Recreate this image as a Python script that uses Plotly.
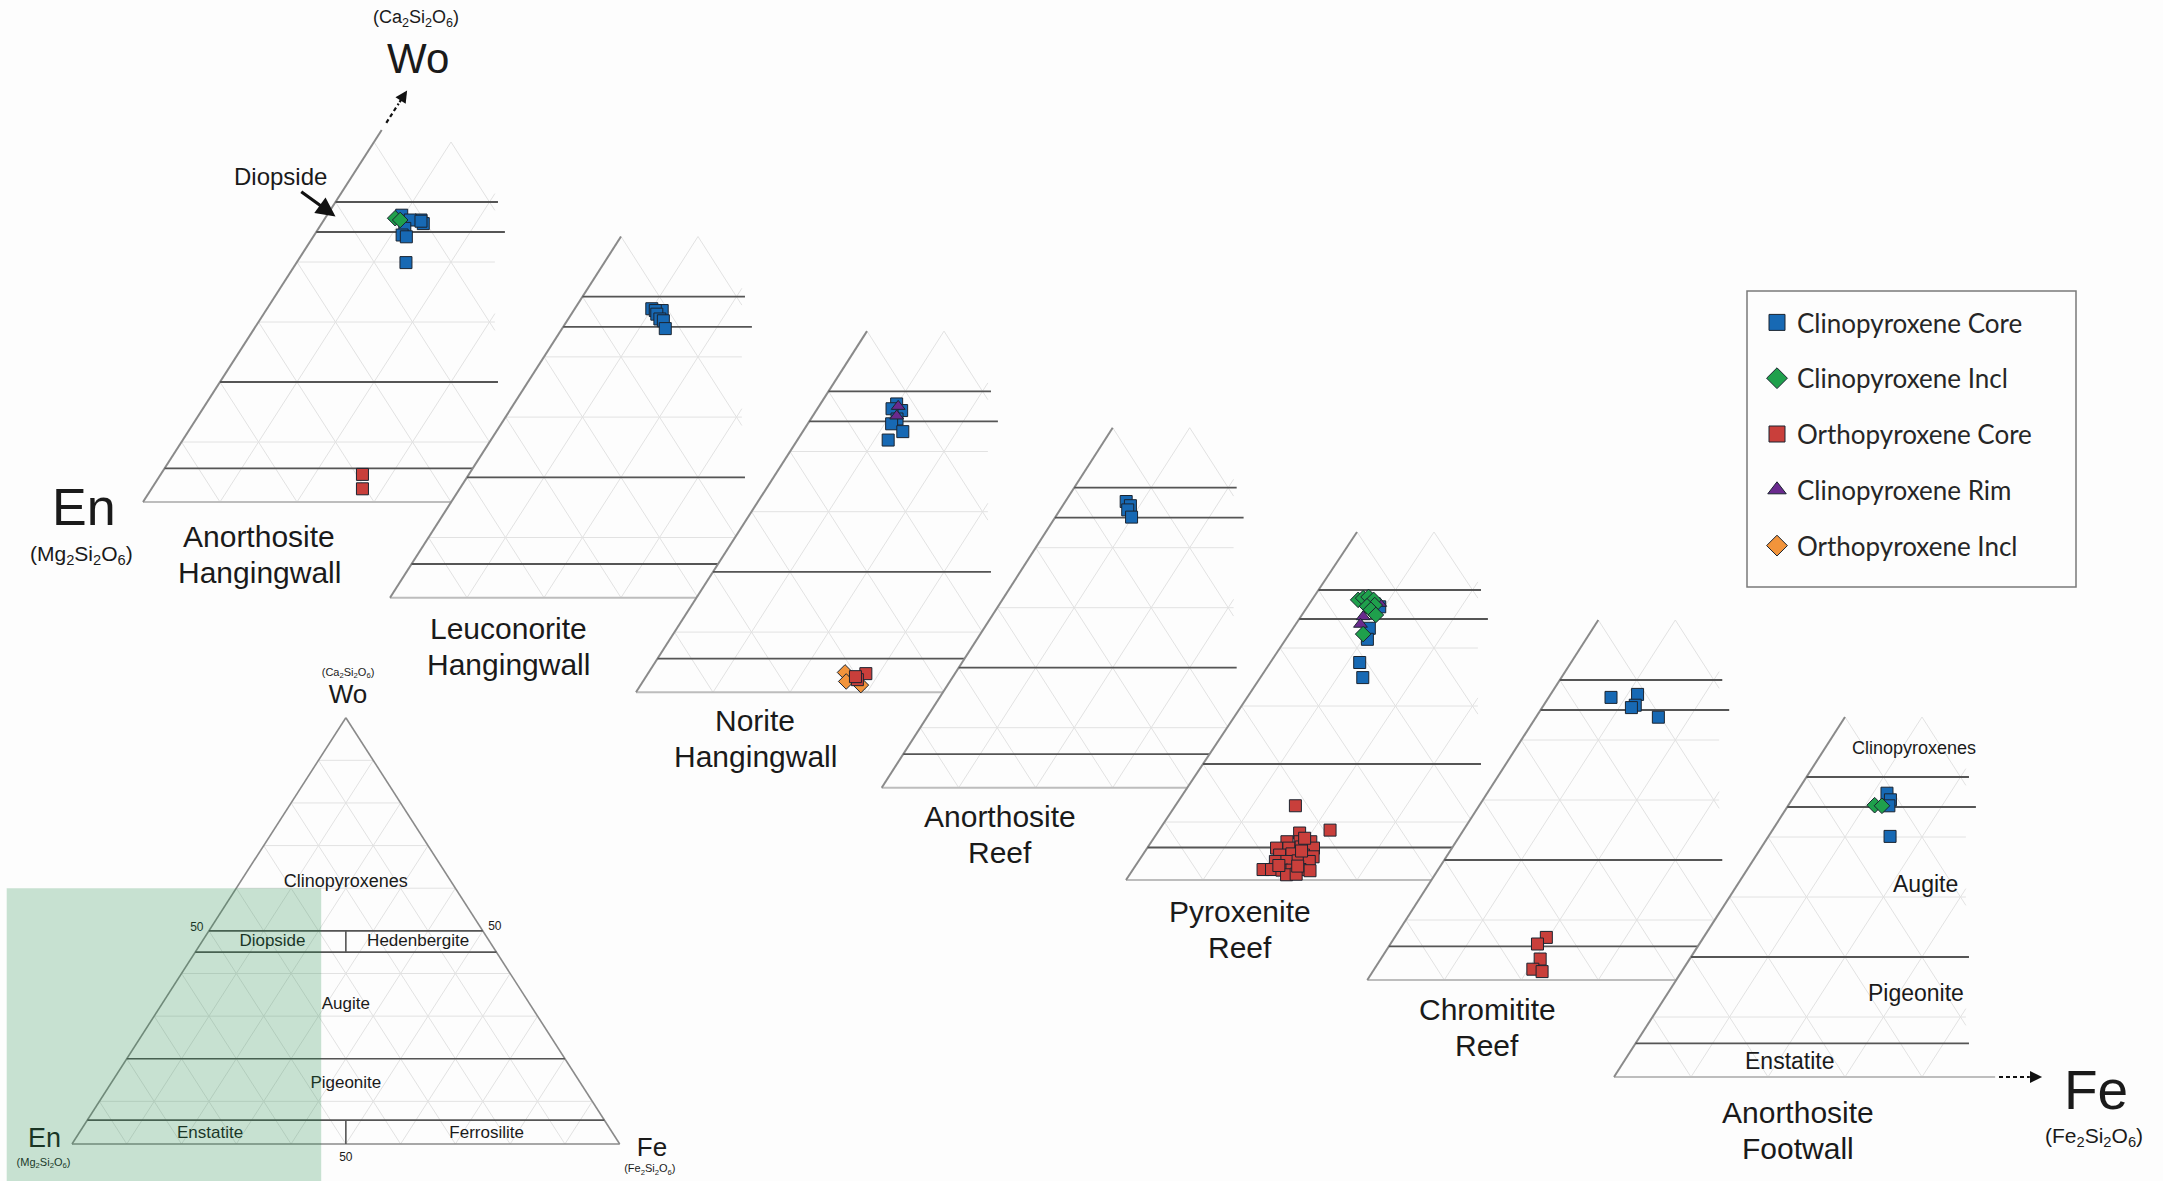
import numpy as np
import plotly.graph_objects as go

FIG_W, FIG_H = 2163, 1181
R3 = np.sqrt(3) / 2

# ---------------------------------------------------------------------------
# Pyroxene compositions, mol. % Wo and mol. % Fs (En = 100 - Wo - Fs)
# ---------------------------------------------------------------------------
PANEL_KEYS = ["AH", "LH", "NH", "AR", "PR", "CR", "AF"]
PANEL_TITLES = {
    "AH": ("Anorthosite", "Hangingwall"),
    "LH": ("Leuconorite", "Hangingwall"),
    "NH": ("Norite", "Hangingwall"),
    "AR": ("Anorthosite", "Reef"),
    "PR": ("Pyroxenite", "Reef"),
    "CR": ("Chromitite", "Reef"),
    "AF": ("Anorthosite", "Footwall"),
}

CPX_CORE_WO = {
    "AH": [47.8, 47.0, 47.0, 46.4, 46.8, 45.6, 44.5, 44.2, 39.9],
    "LH": [48.0, 47.7, 47.7, 47.1, 46.3, 46.0, 44.7],
    "NH": [47.9, 46.8, 47.1, 45.4, 44.6, 43.3, 41.9],
    "AR": [47.7, 47.0, 46.3, 45.1],
    "PR": [47.1, 43.4, 41.5, 37.5, 34.9],
    "CR": [47.1, 47.6, 45.8, 45.4, 43.8],
    "AF": [47.3, 46.2, 45.2, 40.1],
}
CPX_CORE_FS = {
    "AH": [9.7, 12.6, 11.2, 13.2, 12.7, 11.2, 11.4, 12.1, 14.2],
    "LH": [10.0, 11.5, 10.6, 11.1, 11.9, 12.5, 13.4],
    "NH": [9.9, 11.1, 9.7, 11.2, 10.9, 13.0, 11.8],
    "AR": [7.9, 8.8, 8.8, 9.9],
    "PR": [9.4, 9.9, 10.6, 11.6, 13.3],
    "CR": [8.1, 11.3, 11.9, 11.6, 15.9],
    "AF": [11.8, 12.8, 13.1, 15.8],
}

CPX_INCL_WO = {
    "AH": [47.3, 47.0],
    "PR": [48.3, 48.6, 48.8, 48.3, 47.4, 47.2, 46.6, 45.7, 42.4],
    "AF": [45.3, 45.2],
}
CPX_INCL_FS = {
    "AH": [9.1, 9.9],
    "PR": [6.0, 6.5, 7.1, 8.0, 8.6, 7.7, 8.5, 9.6, 9.6],
    "AF": [11.2, 12.2],
}

CPX_RIM_WO = {"NH": [47.5, 45.9], "PR": [47.7, 45.4, 44.1]}
CPX_RIM_FS = {"NH": [10.3, 10.9], "PR": [9.1, 8.1, 8.4]}

OPX_CORE_WO = {
    "AH": [4.6, 2.2],
    "NH": [3.1, 2.1, 2.6],
    "PR": [12.8, 8.6, 8.1, 6.6, 6.6, 6.6, 5.5, 5.5, 5.7, 5.5, 4.3, 4.5, 4.3,
           4.0, 3.2, 3.2, 3.3, 3.2, 1.8, 1.8, 1.7, 1.7, 1.8, 1.6, 0.9, 1.0,
           7.2, 5.0, 2.5, 2.4],
    "CR": [7.1, 6.0, 3.5, 1.8, 1.4],
}
OPX_CORE_FS = {
    "AH": [26.2, 27.4],
    "NH": [28.3, 27.7, 27.2],
    "PR": [15.6, 22.2, 18.5, 17.6, 19.3, 20.7, 16.8, 18.4, 19.9, 21.6, 17.8,
           19.3, 20.9, 22.3, 17.8, 19.3, 20.7, 22.2, 16.9, 18.0, 19.4, 20.7,
           21.7, 23.1, 20.4, 21.6, 19.6, 20.3, 18.6, 21.1],
    "CR": [19.7, 19.1, 20.7, 20.6, 22.0],
}

OPX_INCL_WO = {"NH": [3.3, 1.8, 1.2]}
OPX_INCL_FS = {"NH": [25.5, 26.4, 28.6]}

# Pyroxene classification boundaries (mol. % Wo)
BOUNDARY_WO = [50, 45, 20, 5.6]

# ---------------------------------------------------------------------------
# Styles (series listed in drawing order)
# ---------------------------------------------------------------------------
OUTLINE = "#1b2430"
SERIES = [
    dict(name="Clinopyroxene Core", wo=CPX_CORE_WO, fs=CPX_CORE_FS, symbol="square", color="#1769b4", rank=1),
    dict(name="Orthopyroxene Incl", wo=OPX_INCL_WO, fs=OPX_INCL_FS, symbol="diamond", color="#f2943b", rank=5),
    dict(name="Orthopyroxene Core", wo=OPX_CORE_WO, fs=OPX_CORE_FS, symbol="square", color="#c93f3b", rank=3),
    dict(name="Clinopyroxene Rim", wo=CPX_RIM_WO, fs=CPX_RIM_FS, symbol="triangle-up", color="#6a2a8e", rank=4),
    dict(name="Clinopyroxene Incl", wo=CPX_INCL_WO, fs=CPX_INCL_FS, symbol="diamond", color="#1fa04c", rank=2),
]

FONT = "Liberation Sans, Arial, sans-serif"
TEXT_COLOR = "#1a1a1a"
BG_COLOR = "#fdfdfd"
GRID_COLOR = "#e2e2e2"
EDGE_COLOR = "#8a8a8a"
BASE_COLOR = "#bdbdbd"
BOUND_COLOR = "#555555"

# Stacked panels: En corner position (px), px per mol.% along Fs and along Wo
PANEL_EN_PX = [(143, 502), (390, 597.7), (636, 692.3), (881.7, 787.7),
               (1126, 880), (1367.3, 980), (1614, 1077)]
PANEL_WO_PX = [6.0, 6.02, 6.02, 6.0, 5.8, 6.0, 6.0]
PANEL_FS_PX = 7.7
PANEL_WO_TOP = 60
PANEL_GRID_XMAX = 45.7
PANEL_LINE_XMAX = {50: 46.1, 45: 47.0, 20: 46.1, 5.6: 46.1}
PANEL_OCCLUDE_XMAX = 47.6
# label block centre relative to each panel's En corner (px) and line pitch
PANEL_LABEL_PX = [(116, 52), (118, 49), (119, 46), (118, 47), (114, 49), (120, 47), (184, 53)]
LABEL_PITCH_PX = 36

# Overview ternary
MINI_EN_PX = (72, 1144)
MINI_FS_PX = 5.477
MINI_WO_PX = 4.263


def txy(wo, fs):
    wo = np.asarray(wo, dtype=float)
    fs = np.asarray(fs, dtype=float)
    return fs + wo / 2.0, wo * R3


def clip_seg(p0, p1, xmax):
    (x0, y0), (x1, y1) = p0, p1
    if x0 > xmax and x1 > xmax:
        return None
    if x0 > xmax:
        t = (xmax - x1) / (x0 - x1)
        x0, y0 = xmax, y1 + t * (y0 - y1)
    if x1 > xmax:
        t = (xmax - x0) / (x1 - x0)
        x1, y1 = xmax, y0 + t * (y1 - y0)
    return (x0, y0), (x1, y1)


fig = go.Figure()
layout_axes = {}
annotations = []


def add_subplot(idx, en_px, fs_px, wo_px):
    sx, sy = fs_px, wo_px / R3
    xr = "x" if idx == 1 else f"x{idx}"
    yr = "y" if idx == 1 else f"y{idx}"
    layout_axes["xaxis" if idx == 1 else f"xaxis{idx}"] = dict(
        domain=[0, 1], range=[-en_px[0] / sx, (FIG_W - en_px[0]) / sx],
        visible=False, anchor=yr, fixedrange=True)
    layout_axes["yaxis" if idx == 1 else f"yaxis{idx}"] = dict(
        domain=[0, 1], range=[(en_px[1] - FIG_H) / sy, en_px[1] / sy],
        visible=False, anchor=xr, fixedrange=True)
    return xr, yr, sx, sy


def add_segments(segs, xr, yr, color, width, dash="solid", xmax=None):
    xs, ys = [], []
    for (wo0, fs0), (wo1, fs1) in segs:
        p0 = tuple(float(v) for v in txy(wo0, fs0))
        p1 = tuple(float(v) for v in txy(wo1, fs1))
        if xmax is not None:
            c = clip_seg(p0, p1, xmax)
            if c is None:
                continue
            p0, p1 = c
        xs += [p0[0], p1[0], None]
        ys += [p0[1], p1[1], None]
    fig.add_trace(go.Scatter(x=xs, y=ys, xaxis=xr, yaxis=yr, mode="lines",
                             line=dict(color=color, width=width, dash=dash),
                             hoverinfo="skip", showlegend=False))


# ---------------------------------------------------------------------------
# Overview ternary (subplot 1)
# ---------------------------------------------------------------------------
mx, my, msx, msy = add_subplot(1, MINI_EN_PX, MINI_FS_PX, MINI_WO_PX)

mini_grid = []
for k in range(10, 100, 10):
    mini_grid.append(((k, 0), (k, 100 - k)))
    mini_grid.append(((0, k), (100 - k, k)))
    mini_grid.append(((0, 100 - k), (100 - k, 0)))
add_segments(mini_grid, mx, my, GRID_COLOR, 1)
add_segments([((0, 0), (100, 0)), ((100, 0), (0, 100)), ((0, 0), (0, 100))],
             mx, my, EDGE_COLOR, 1.6)
mini_bounds = [((w, 0), (w, 100 - w)) for w in BOUNDARY_WO]
mini_bounds += [((45, 50 - 45 / 2), (50, 25)), ((0, 50), (5.6, 50 - 5.6 / 2))]
add_segments(mini_bounds, mx, my, BOUND_COLOR, 1.6)

mini_text = [
    ("Clinopyroxenes", 50.0, 53.2, 18), ("Diopside", 36.6, 41.1, 17),
    ("Hedenbergite", 63.2, 41.1, 17), ("Augite", 50.0, 28.3, 17),
    ("Pigeonite", 50.0, 12.2, 17), ("Enstatite", 25.2, 2.1, 17),
    ("Ferrosilite", 75.7, 2.1, 17), ("50", 22.8, 43.9, 12), ("50", 77.2, 44.1, 12),
    ("50", 50.0, -2.8, 12),
    ("Wo", 50.4, 90.9, 26), ("(Ca<sub>2</sub>Si<sub>2</sub>O<sub>6</sub>)", 50.4, 95.6, 11),
    ("En", -5.0, 0.7, 27), ("(Mg<sub>2</sub>Si<sub>2</sub>O<sub>6</sub>)", -5.2, -3.9, 11),
    ("Fe", 105.9, -1.1, 26), ("(Fe<sub>2</sub>Si<sub>2</sub>O<sub>6</sub>)", 105.5, -5.2, 11),
]
for txt, x, y, size in mini_text:
    fig.add_trace(go.Scatter(x=[x], y=[y], xaxis=mx, yaxis=my, mode="text", text=[txt],
                             textposition="middle center",
                             textfont=dict(family=FONT, size=size, color=TEXT_COLOR),
                             hoverinfo="skip", showlegend=False))

# ---------------------------------------------------------------------------
# Stacked, truncated ternaries (subplots 2-8)
# ---------------------------------------------------------------------------
panel_refs = []
for i, key in enumerate(PANEL_KEYS):
    idx = i + 2
    xr, yr, sx, sy = add_subplot(idx, PANEL_EN_PX[i], PANEL_FS_PX, PANEL_WO_PX[i])
    panel_refs.append((xr, yr, sx, sy))
    top = PANEL_WO_TOP
    # opaque panel face, hides the part of the panel behind it
    ox = [0, top / 2, PANEL_OCCLUDE_XMAX, PANEL_OCCLUDE_XMAX, 0]
    oy = [0, top * R3, top * R3, 0, 0]
    fig.add_trace(go.Scatter(x=ox, y=oy, xaxis=xr, yaxis=yr, mode="lines", fill="toself",
                             fillcolor=BG_COLOR, line=dict(width=0), hoverinfo="skip",
                             showlegend=False))
    grid = [((w, 0), (w, 100 - w)) for w in range(10, top, 10)]
    grid += [((0, f), (top, f)) for f in range(10, 100, 10)]
    grid += [((0, t), (min(t, top), t - min(t, top))) for t in range(10, 101, 10)]
    add_segments(grid, xr, yr, GRID_COLOR, 1, xmax=PANEL_GRID_XMAX)
    base_end = 49.5 if key == "AF" else PANEL_LINE_XMAX[20]
    add_segments([((0, 0), (0, base_end))], xr, yr, BASE_COLOR, 2)
    edge_top = 62 if key == "AH" else top
    add_segments([((0, 0), (edge_top, 0))], xr, yr, EDGE_COLOR, 2)
    for w in BOUNDARY_WO:
        add_segments([((w, 0), (w, 100 - w))], xr, yr, BOUND_COLOR, 1.8,
                     xmax=PANEL_LINE_XMAX[w])
    for s in SERIES:
        if key not in s["wo"]:
            continue
        px, py = txy(s["wo"][key], s["fs"][key])
        fig.add_trace(go.Scatter(
            x=px, y=py, xaxis=xr, yaxis=yr, mode="markers", name=s["name"],
            legendgroup=s["name"], showlegend=False,
            marker=dict(symbol=s["symbol"], size=12, color=s["color"],
                        line=dict(color=OUTLINE, width=1)),
            hovertemplate="Wo %{customdata[0]}<br>Fs %{customdata[1]}<extra>" + s["name"] + "</extra>",
            customdata=np.column_stack([s["wo"][key], s["fs"][key]])))
    lx, ly = PANEL_LABEL_PX[i]
    for j, line in enumerate(PANEL_TITLES[key]):
        ly_line = ly + (j - 0.5) * LABEL_PITCH_PX
        annotations.append(dict(x=lx / sx, y=-ly_line / sy, xref=xr, yref=yr, text=line,
                                showarrow=False, font=dict(family=FONT, size=30, color=TEXT_COLOR),
                                xanchor="center", yanchor="middle", align="center"))

# Wo axis arrow on the first panel, Fe axis arrow on the last panel
x1r, y1r, s1x, s1y = panel_refs[0]
add_segments([((63.2, 0), (66.4, 0))], x1r, y1r, "#111111", 2.2, dash="4px,3px")
tx, ty = txy(68.6, 0)
bx, by = txy(66.4, 0)
annotations.append(dict(x=float(tx), y=float(ty), ax=float(bx), ay=float(by), xref=x1r, yref=y1r,
                        axref=x1r, ayref=y1r, text="", showarrow=True, arrowhead=2,
                        arrowsize=1.1, arrowwidth=2.2, arrowcolor="#111111"))
x7r, y7r, s7x, s7y = panel_refs[-1]
add_segments([((0, 50.0), (0, 54.0))], x7r, y7r, "#111111", 2.2, dash="4px,3px")
tx, ty = txy(0, 55.6)
bx, by = txy(0, 54.0)
annotations.append(dict(x=float(tx), y=float(ty), ax=float(bx), ay=float(by), xref=x7r, yref=y7r,
                        axref=x7r, ayref=y7r, text="", showarrow=True, arrowhead=2,
                        arrowsize=1.1, arrowwidth=2.2, arrowcolor="#111111"))

# Diopside pointer on the first panel
tx, ty = txy(47.6, 1.2)
annotations.append(dict(x=float(tx), y=float(ty), ax=137.4 / s1x, ay=325.2 / s1y,
                        xref=x1r, yref=y1r, axref=x1r, ayref=y1r, text="Diopside",
                        showarrow=True, arrowhead=2, arrowsize=1.2, arrowwidth=3.2,
                        arrowcolor="#111111", standoff=0,
                        font=dict(family=FONT, size=24, color=TEXT_COLOR)))

# field names on the last panel
for txt, x, y, size in [("Clinopyroxenes", 39.0, 47.5, 18), ("Augite", 40.4, 27.8, 23),
                        ("Pigeonite", 39.2, 12.1, 23), ("Enstatite", 22.8, 2.3, 23)]:
    annotations.append(dict(x=x, y=y, xref=x7r, yref=y7r, text=txt, showarrow=False,
                            font=dict(family=FONT, size=size, color=TEXT_COLOR)))

# end-member labels
for txt, px, py, size in [("Wo", 418, 59, 42),
                          ("(Ca<sub>2</sub>Si<sub>2</sub>O<sub>6</sub>)", 416, 18, 18),
                          ("En", 84, 507, 52),
                          ("(Mg<sub>2</sub>Si<sub>2</sub>O<sub>6</sub>)", 81, 555, 21),
                          ("Fe", 2096, 1090, 55),
                          ("(Fe<sub>2</sub>Si<sub>2</sub>O<sub>6</sub>)", 2094, 1137, 21)]:
    annotations.append(dict(x=px / FIG_W, y=1 - py / FIG_H, xref="paper", yref="paper",
                            text=txt, showarrow=False, xanchor="center", yanchor="middle",
                            font=dict(family=FONT, size=size, color=TEXT_COLOR)))

# legend entries
for s in SERIES:
    fig.add_trace(go.Scatter(x=[None], y=[None], xaxis=mx, yaxis=my, mode="markers",
                             name=s["name"], legendgroup=s["name"], legendrank=s["rank"],
                             showlegend=True,
                             marker=dict(symbol=s["symbol"], size=16, color=s["color"],
                                         line=dict(color=OUTLINE, width=1))))

shapes = [
    # highlighted region of the overview ternary
    dict(type="rect", xref=mx, yref=my, x0=(6.7 - MINI_EN_PX[0]) / msx, x1=45.5,
         y0=(MINI_EN_PX[1] - FIG_H - 5) / msy, y1=60 * R3, layer="above",
         fillcolor="rgba(30,140,70,0.24)", line=dict(width=0)),
    # legend frame
    dict(type="rect", xref="paper", yref="paper", x0=1747 / FIG_W, x1=2076 / FIG_W,
         y0=1 - 587 / FIG_H, y1=1 - 291 / FIG_H, layer="below",
         fillcolor=BG_COLOR, line=dict(color="#7a7a7a", width=1.5)),
]

fig.update_layout(
    width=FIG_W, height=FIG_H,
    margin=dict(l=0, r=0, t=0, b=0, pad=0),
    paper_bgcolor=BG_COLOR, plot_bgcolor="rgba(0,0,0,0)",
    font=dict(family=FONT, color=TEXT_COLOR),
    showlegend=True,
    legend=dict(x=1757 / FIG_W, y=1 - 299 / FIG_H, xanchor="left", yanchor="top",
                bgcolor="rgba(0,0,0,0)", borderwidth=0, tracegroupgap=19,
                font=dict(family="Lato, Liberation Sans, sans-serif", size=26, color="#262626"),
                itemsizing="trace"),
    annotations=annotations,
    shapes=shapes,
    **layout_axes,
)

fig.write_html("out.html", config={"displayModeBar": False})
